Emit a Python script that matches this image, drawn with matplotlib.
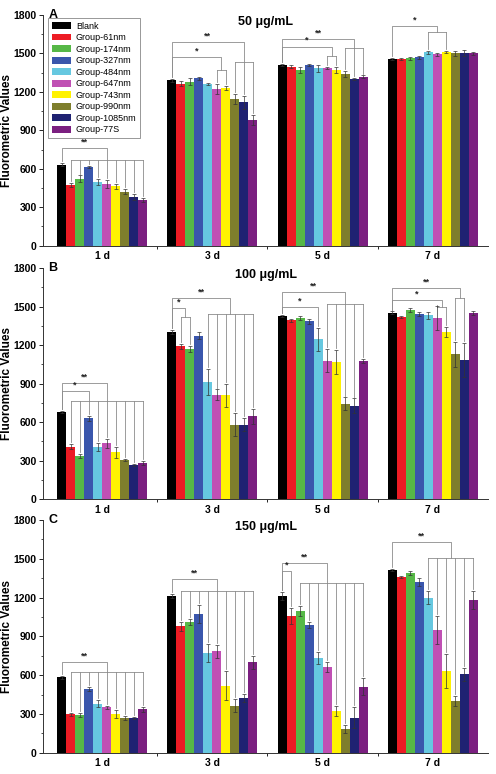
import numpy as np
import matplotlib.pyplot as plt

plt.rcParams['font.family'] = ['Liberation Sans', 'DejaVu Sans']

# categories
days = ['1 d', '3 d', '5 d', '7 d']
groups = ['Blank', 'Group-61nm', 'Group-174nm', 'Group-327nm', 'Group-484nm',
          'Group-647nm', 'Group-743nm', 'Group-990nm', 'Group-1085nm', 'Group-77S']
colors = ['#000000', '#ED1C24', '#56B847', '#3A56AC', '#66C8E0',
          '#C050B4', '#FFF200', '#7E7E2C', '#1F2272', '#7B1F80']
titles = ['50 \u03bcg/mL', '100 \u03bcg/mL', '150 \u03bcg/mL']
letters = ['A', 'B', 'C']

# values, one row per day
vals_50 = [[633, 471, 523, 615, 495, 483, 465, 420, 380, 355],
           [1290, 1265, 1280, 1305, 1260, 1220, 1230, 1145, 1120, 980],
           [1410, 1397, 1371, 1410, 1384, 1387, 1371, 1340, 1299, 1320],
           [1456, 1456, 1461, 1469, 1508, 1492, 1513, 1500, 1505, 1500]]
errs_50 = [[15, 15, 25, 5, 25, 30, 20, 20, 20, 15],
           [10, 20, 25, 10, 10, 40, 15, 40, 50, 40],
           [8, 10, 20, 8, 25, 8, 25, 25, 8, 8],
           [8, 10, 10, 10, 15, 10, 10, 20, 25, 10]]

vals_100 = [[680, 408, 335, 630, 405, 435, 365, 305, 265, 280],
            [1305, 1190, 1170, 1275, 915, 815, 810, 580, 580, 645],
            [1427, 1394, 1409, 1388, 1246, 1079, 1071, 743, 730, 1076],
            [1453, 1419, 1474, 1440, 1432, 1412, 1303, 1128, 1084, 1453]]
errs_100 = [[5, 20, 15, 20, 30, 35, 40, 10, 10, 15],
            [15, 20, 25, 25, 100, 40, 90, 90, 50, 60],
            [10, 10, 15, 20, 90, 90, 95, 50, 55, 15],
            [10, 10, 15, 15, 30, 90, 40, 95, 130, 15]]

vals_150 = [[582, 296, 292, 495, 380, 350, 300, 270, 268, 335],
            [1210, 980, 1010, 1075, 770, 785, 520, 365, 425, 698],
            [1211, 1057, 1095, 987, 735, 662, 325, 183, 271, 510],
            [1412, 1361, 1387, 1320, 1198, 948, 631, 399, 608, 1180]]
errs_150 = [[15, 15, 15, 15, 25, 10, 30, 15, 8, 20],
            [15, 35, 25, 70, 70, 50, 110, 50, 30, 50],
            [30, 60, 40, 25, 45, 40, 40, 30, 80, 65],
            [10, 10, 15, 30, 50, 110, 130, 40, 50, 70]]

# significance marks: combs (day, bars, level), brackets (day, left, right, level, label, drop level)
combs_50 = [(0, range(1, 10), 670), (1, [5, 6], 1372), (1, [7, 8, 9], 1434),
            (2, [5, 6], 1480), (2, [7, 8, 9], 1540), (3, [4, 6], 1668)]
sigs_50 = [(0, 0, 5, 764, '**', 670), (1, 0, 8, 1590, '**', 1434), (1, 0, 5.5, 1473, '*', 1372),
           (2, 0, 8, 1611, '**', 1540), (2, 0, 5.5, 1554, '*', 1480), (3, 0, 5, 1715, '*', 1668)]

combs_100 = [(0, range(1, 10), 766), (1, [1, 2], 1420), (1, range(4, 10), 1442),
             (2, range(5, 10), 1520), (3, [7, 8], 1564), (3, [5, 6], 1500)]
sigs_100 = [(0, 0, 5, 904, '**', 766), (0, 0, 3, 844, '*', 766), (1, 0, 6.5, 1567, '**', 1442),
            (1, 0, 1.5, 1490, '*', 1420), (2, 0, 7, 1616, '**', 1520), (2, 0, 4, 1500, '*', None),
            (3, 0, 7.5, 1642, '**', 1564), (3, 0, 5.5, 1550, '*', 1500)]

combs_150 = [(0, range(1, 10), 627), (1, range(1, 10), 1250), (2, range(2, 10), 1313),
             (3, range(4, 10), 1508)]
sigs_150 = [(0, 0, 5, 704, '**', 627), (1, 0, 5, 1343, '**', 1250), (2, 0, 5, 1467, '**', 1313),
            (2, 0, 1, 1408, '*', None), (3, 0, 6.5, 1632, '**', 1508)]

panels = [(vals_50, errs_50, combs_50, sigs_50),
          (vals_100, errs_100, combs_100, sigs_100),
          (vals_150, errs_150, combs_150, sigs_150)]

fig = plt.figure(figsize=(4.96, 7.74), dpi=100)
rects = [[0.0867, 0.6826, 0.8972, 0.298],
         [0.0867, 0.355, 0.8972, 0.2985],
         [0.0867, 0.0275, 0.8972, 0.3006]]

w = 0.0816
xc = np.arange(1, len(days) + 1)
lc = '#8c8c8c'


def pos(d, i):
    return xc[d] + (i - 4.5) * w


for p, (vals, errs, combs, sigs) in enumerate(panels):
    ax = fig.add_axes(rects[p])
    vals = np.array(vals)
    errs = np.array(errs)
    for i in range(len(groups)):
        x = xc + (i - 4.5) * w
        ax.bar(x, vals[:, i], w, color=colors[i], label=groups[i], zorder=2)
        ax.errorbar(x, vals[:, i], yerr=errs[:, i], fmt='none', ecolor='#333333',
                    elinewidth=0.5, capsize=1.2, capthick=0.5, zorder=3)

    def top(d, i):
        return vals[d, i] + errs[d, i] + 15

    for d, idx, lev in combs:
        idx = list(idx)
        for i in idx:
            ax.plot([pos(d, i)] * 2, [top(d, i), lev], color=lc, lw=0.6, zorder=1)
        ax.plot([pos(d, idx[0]), pos(d, idx[-1])], [lev, lev], color=lc, lw=0.6, zorder=1)

    for d, a, b, lev, lab, drop in sigs:
        xa, xb = pos(d, a), pos(d, b)
        yb = drop if drop is not None else top(d, int(b))
        ax.plot([xa, xa, xb, xb], [top(d, a), lev, lev, yb], color=lc, lw=0.6, zorder=1)
        ax.text((xa + xb) / 2, lev + 12, lab, ha='center', va='bottom',
                fontsize=6.5, fontweight='bold', color='#222222')

    ax.set_xlim(0.465, 4.5)
    ax.set_ylim(0, 1800)
    ax.set_yticks(np.arange(0, 1801, 300))
    ax.set_yticks(np.arange(150, 1800, 300), minor=True)
    ax.set_xticks(xc)
    ax.set_xticklabels(days, fontsize=7.5, fontweight='bold')
    ax.set_xticks(xc[:-1] + 0.5, minor=True)
    ax.tick_params(axis='x', which='major', length=0, pad=4)
    ax.tick_params(axis='x', which='minor', length=2.5, width=0.6, direction='out')
    ax.tick_params(axis='y', which='major', length=3, width=0.6, labelsize=7.5, pad=1.5)
    ax.tick_params(axis='y', which='minor', length=1.5, width=0.5)
    for t in ax.get_yticklabels():
        t.set_fontweight('bold')
    for s in ['top', 'right']:
        ax.spines[s].set_visible(False)
    for s in ['left', 'bottom']:
        ax.spines[s].set_linewidth(0.7)
        ax.spines[s].set_color('#333333')
    ax.set_ylabel('Fluorometric Values', fontsize=8.5, fontweight='bold')
    ax.yaxis.set_label_coords(-0.068, 0.5)
    ax.text(0.5, 0.995, titles[p], transform=ax.transAxes, ha='center', va='top',
            fontsize=9, fontweight='bold')
    ax.text(0.012, 1.0, letters[p], transform=ax.transAxes, ha='left', va='center',
            fontsize=9, fontweight='bold')
    if p == 0:
        leg = ax.legend(loc='upper left', bbox_to_anchor=(0.012, 0.985), fontsize=6.5,
                        handlelength=2.2, handleheight=0.8, labelspacing=0.28,
                        handletextpad=0.5, borderpad=0.35, borderaxespad=0,
                        fancybox=False, framealpha=1)
        leg.get_frame().set_edgecolor('#888888')
        leg.get_frame().set_linewidth(0.6)

plt.savefig('out.png', dpi=100)
